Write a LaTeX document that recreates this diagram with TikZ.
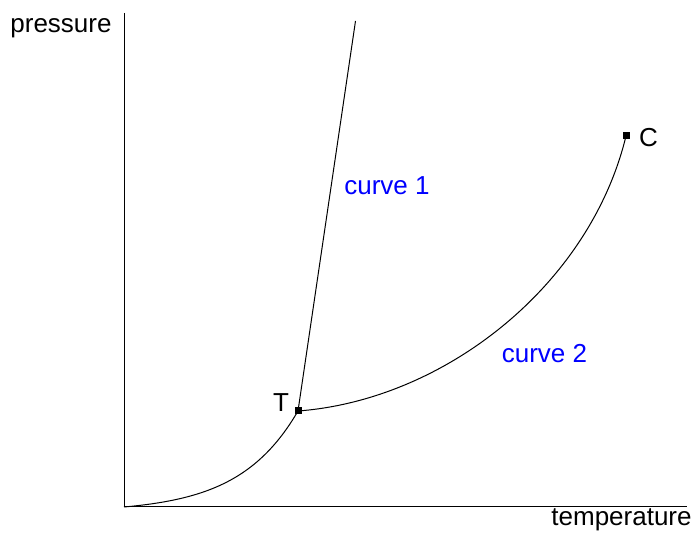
\documentclass[tikz,border=0pt]{standalone}
\usepackage{fontspec}
\setmainfont{Liberation Sans}
\begin{document}
\begin{tikzpicture}[x=1pt,y=-1pt,
  lbl/.style={anchor=base,inner sep=0pt,font=\fontsize{26}{31}\selectfont},
  curvelbl/.style={lbl,text=blue},
  pt/.style={fill=black,minimum size=7pt,inner sep=0pt,outer sep=0pt},
  ln/.style={line width=1pt,black}]
\useasboundingbox (0,0) rectangle (697,534);
% axes
\coordinate (ytop) at (124,13);
\coordinate (O) at (124,507);
\coordinate (xend) at (687,507);
\draw[ln] (ytop) -- (O) -- (xend);
% points
\coordinate (T) at (298,411);
\coordinate (C) at (626,136);
\coordinate (top1) at (355.5,21);
% curves
\draw[ln] plot[domain=124:298,samples=80] (\x,{507-5.26*(exp(0.017*(\x-124))-1)});
\draw[ln] (T) -- (top1);
\draw[ln] (T) .. controls (445,400) and (590,285) .. (C);
\node[pt] (Tm) at (T) {};
\node[pt] (Cm) at (C) {};
% labels
\node[lbl] (tl) at (281,412) {T};
\node[lbl] (cl) at (648.5,147) {C};
\node[lbl] (pl) at (61,33) {pressure};
\node[lbl] (tel) at (621.5,526) {temperature};
\node[curvelbl] (c1) at (387,195) {curve 1};
\node[curvelbl] (c2) at (544.5,363) {curve 2};
\end{tikzpicture}
\end{document}
